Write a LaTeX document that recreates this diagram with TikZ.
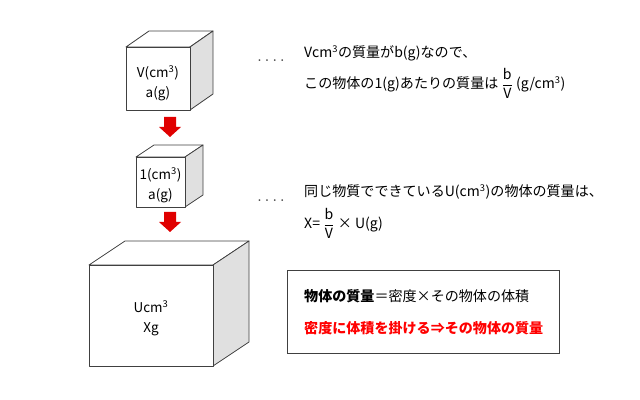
\documentclass[tikz,border=0pt]{standalone}
\usepackage{amsmath}
\usepackage{fontspec}
\setmainfont{Noto Sans CJK JP}
\usepackage{tikz}
\definecolor{rojo}{RGB}{224,0,0}
\definecolor{borde}{RGB}{64,64,64}
\tikzstyle{arista}=[draw=borde, line width=0.7pt, line join=round]
\tikzstyle{texto}=[inner sep=0pt, anchor=west, font=\fontsize{12}{14}\selectfont]
\tikzstyle{etiq}=[inner sep=0pt, align=center, font=\fontsize{11.5}{17}\selectfont]
\tikzstyle{puntos}=[inner sep=0pt, text=black!70, font=\fontsize{11.5}{14}\selectfont]
% x1 y1 x2 y2 dx dy
\newcommand{\cubo}[6]{%
  \filldraw[arista, fill=white] (#1,#2) -- (#1+#5,#2-#6) -- (#3+#5,#2-#6) -- (#3,#2) -- cycle;
  \filldraw[arista, fill=black!12] (#3,#2) -- (#3+#5,#2-#6) -- (#3+#5,#4-#6) -- (#3,#4) -- cycle;
  \filldraw[arista, fill=white] (#1,#2) rectangle (#3,#4);
}
% centro, arriba
\newcommand{\flecha}[2]{%
  \fill[rojo] (#1-6,#2) -- (#1+6,#2) -- (#1+6,#2+10) -- (#1+11,#2+10) -- (#1,#2+20)
    -- (#1-11,#2+10) -- (#1-6,#2+10) -- cycle;
}
\newcommand{\pto}{\makebox[6.5pt]{·}}

\begin{document}
\begin{tikzpicture}[x=0.03cm, y=-0.03cm]
            \useasboundingbox (0,0) rectangle (640,400);

            % cubos
            \cubo{126}{47}{190}{110}{23}{16}
            \cubo{136}{157}{185}{207}{18}{12}
            \cubo{89}{265}{213}{366}{36}{24}

            \node[etiq] (c1) at (158,83) {V(cm\textsuperscript{3})\\a(g)};
            \node[etiq] (c2) at (160.5,185) {1(cm\textsuperscript{3})\\a(g)};
            \node[etiq] (c3) at (151,318) {Ucm\textsuperscript{3}\\Xg};

            % flechas
            \flecha{170}{117}
            \flecha{170}{212}

            % textos
            \node[puntos] (d1) at (271,63) {\pto\pto\pto\pto};
            \node[puntos] (d2) at (271,203) {\pto\pto\pto\pto};

            \node[texto] (l1) at (304,53) {Vcm\textsuperscript{3}の質量がb(g)なので、};
            \node[texto] (l2) at (304,83) {この物体の1(g)あたりの質量は $\dfrac{\text{b}}{\text{V}}$ (g/cm\textsuperscript{3})};
            \node[texto] (l3) at (304,192) {同じ物質でできているU(cm\textsuperscript{3})の物体の質量は、};
            \node[texto] (l4) at (304,223) {X= $\dfrac{\text{b}}{\text{V}}$ × U(g)};

            % recuadro
            \draw[draw=borde, line width=0.7pt] (287,270) rectangle (559,353);
            \node[texto] (r1) at (304,296) {{\bfseries 物体の質量}＝密度×その物体の体積};
            \node[texto, text=red] (r2) at (304,328) {\bfseries 密度に体積を掛ける⇒その物体の質量};
        \end{tikzpicture}
\end{document}
